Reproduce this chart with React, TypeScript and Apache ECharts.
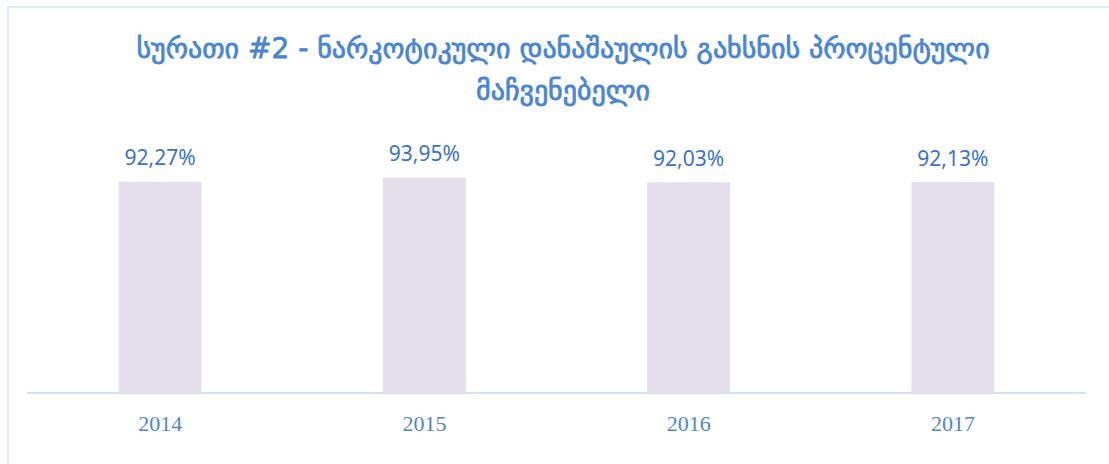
import React, { useEffect, useRef } from "react";
import * as echarts from "echarts";

const categories = ["2014", "2015", "2016", "2017"];
const values = [92.27, 93.95, 92.03, 92.13];
const titleLines = ["სურათი #2 - ნარკოტიკული დანაშაულის გახსნის პროცენტული", "მაჩვენებელი"];

export default function App() {
  const ref = useRef<HTMLDivElement>(null);
  useEffect(() => {
    const chart = echarts.init(ref.current!, null, { renderer: "svg" });
    chart.setOption({
      animation: false,
      backgroundColor: "#ffffff",
      graphic: [
        {
          type: "rect",
          shape: { x: 8, y: 7, width: 1200, height: 600 },
          style: { fill: "none", stroke: "#d9e4f3", lineWidth: 1.5 },
          silent: true,
        },
        {
          type: "text",
          x: 563,
          y: 69,
          style: {
            text: titleLines.join("\n"),
            fontFamily: "DejaVu Sans",
            fontSize: 28,
            lineHeight: 42,
            fill: "#4a86d0",
            stroke: "#4a86d0",
            lineWidth: 0.8,
            align: "center",
            verticalAlign: "middle",
          },
        },
      ],
      grid: { left: 28, right: 24, top: 164, bottom: 71 },
      xAxis: {
        type: "category",
        data: categories,
        axisLine: { lineStyle: { color: "#d3e0f0", width: 2 } },
        axisTick: { show: false },
        axisLabel: {
          color: "#4f86c9",
          fontFamily: "Liberation Serif",
          fontSize: 22,
          margin: 19,
        },
      },
      yAxis: {
        type: "value",
        min: 0,
        max: 100,
        show: false,
        splitLine: { show: false },
      },
      series: [
        {
          type: "bar",
          data: values,
          barWidth: 83,
          itemStyle: { color: "#e5dfec" },
          label: {
            show: true,
            position: "top",
            distance: 14,
            color: "#3b73c2",
            fontFamily: "Noto Sans",
            fontSize: 21,
            formatter: (p: any) => p.value.toFixed(2).replace(".", ",") + "%",
          },
        },
      ],
    });
    return () => chart.dispose();
  }, []);
  return (
    <div
      ref={ref}
      style={{ position: "absolute", left: 0, top: 0, width: 1109, height: 464 }}
    />
  );
}
